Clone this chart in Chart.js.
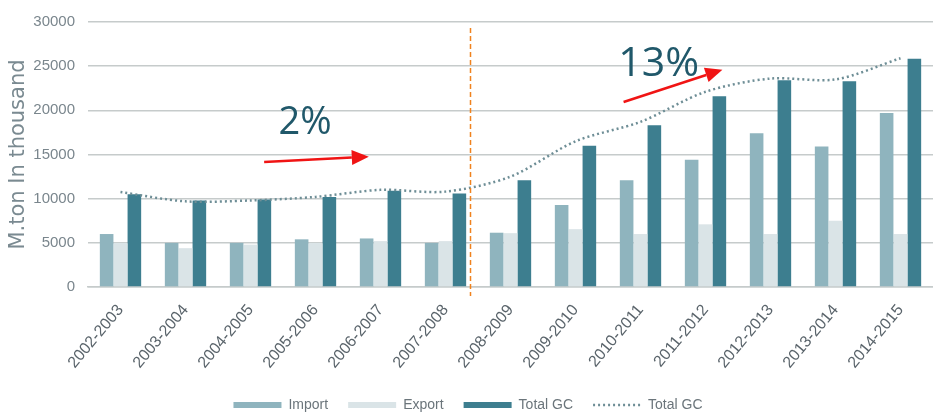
<!DOCTYPE html>
<html>
<head>
<meta charset="utf-8">
<script src="https://cdn.jsdelivr.net/npm/chart.js@4/dist/chart.umd.min.js"></script>
<style>
  html, body { margin: 0; padding: 0; background: #fff; overflow: hidden; }
  #wrap { position: relative; width: 933px; height: 418px; }
</style>
</head>
<body>
<div id="wrap"><canvas id="chart-gc"></canvas></div>
<script>
var seasons = ['2002-2003', '2003-2004', '2004-2005', '2005-2006', '2006-2007', '2007-2008', '2008-2009',
  '2009-2010', '2010-2011', '2011-2012', '2012-2013', '2013-2014', '2014-2015'];
var importValues = [6000, 5000, 5000, 5400, 5500, 5000, 6150, 9300, 12100, 14400, 17400, 15900, 19700];
var exportValues = [5000, 4400, 4800, 5000, 5200, 5200, 6100, 6550, 6000, 7100, 6000, 7500, 6000];
var totalValues = [10500, 9800, 9900, 10200, 10900, 10600, 12100, 16000, 18300, 21600, 23400, 23300, 25850];
var totalTrend = [10750, 9700, 9800, 10200, 11000, 10800, 12500, 16500, 18700, 22100, 23600, 23500, 25900];
var yTicks = [0, 5000, 10000, 15000, 20000, 25000, 30000];

// overlay notes, in category index / axis value
var growthNotes = [
  { text: '2%', x: 2.84, y: 17300, size: 38, from: [2.21, 14150], to: [3.82, 14750] },
  { text: '13%', x: 8.28, y: 23900, size: 41, from: [7.74, 20950], to: [9.26, 24600] }
];
var splitAt = 5.38;

var fontAxis = '"Liberation Sans", Arial, sans-serif';

var overlayPlugin = {
  id: 'overlay',
  afterDatasetsDraw: function (chart) {
    var ctx = chart.ctx, xs = chart.scales.x, ys = chart.scales.y, area = chart.chartArea;
    ctx.save();
    // period split
    var sx = Math.round(xs.getPixelForValue(splitAt)) + 0.5;
    ctx.strokeStyle = '#f0821e';
    ctx.lineWidth = 1.5;
    ctx.setLineDash([5, 3]);
    ctx.beginPath();
    ctx.moveTo(sx, area.top + 6);
    ctx.lineTo(sx, area.bottom + 9);
    ctx.stroke();
    ctx.setLineDash([]);

    growthNotes.forEach(function (n) {
      var x1 = xs.getPixelForValue(n.from[0]), y1 = ys.getPixelForValue(n.from[1]);
      var x2 = xs.getPixelForValue(n.to[0]), y2 = ys.getPixelForValue(n.to[1]);
      var ang = Math.atan2(y2 - y1, x2 - x1);
      var headLen = 17, headW = 7.5;
      var bx = x2 - Math.cos(ang) * headLen, by = y2 - Math.sin(ang) * headLen;
      ctx.strokeStyle = '#f01414';
      ctx.fillStyle = '#f01414';
      ctx.lineWidth = 2.5;
      ctx.beginPath();
      ctx.moveTo(x1, y1);
      ctx.lineTo(bx, by);
      ctx.stroke();
      ctx.beginPath();
      ctx.moveTo(x2, y2);
      ctx.lineTo(bx + Math.sin(ang) * headW, by - Math.cos(ang) * headW);
      ctx.lineTo(bx - Math.sin(ang) * headW, by + Math.cos(ang) * headW);
      ctx.closePath();
      ctx.fill();

      ctx.fillStyle = '#20586a';
      ctx.font = n.size + 'px "Open Sans", "Liberation Sans", sans-serif';
      ctx.textAlign = 'center';
      ctx.textBaseline = 'alphabetic';
      ctx.fillText(n.text, xs.getPixelForValue(n.x), ys.getPixelForValue(n.y));
    });
    ctx.restore();
  }
};

var ctxGc = document.getElementById('chart-gc').getContext('2d');
var gcChart = new Chart(ctxGc, {
  type: 'bar',
  data: {
    labels: seasons,
    datasets: [
      {
        label: 'Import',
        data: importValues,
        backgroundColor: '#8fb4be',
        borderWidth: 0,
        order: 2
      },
      {
        label: 'Export',
        data: exportValues,
        backgroundColor: '#dae4e7',
        borderWidth: 0,
        order: 2
      },
      {
        label: 'Total GC',
        data: totalValues,
        backgroundColor: '#3d7e8f',
        borderWidth: 0,
        order: 2
      },
      {
        type: 'line',
        label: 'Total GC',
        data: totalTrend,
        borderColor: '#6e8e96',
        borderWidth: 2.5,
        borderDash: [2, 3],
        backgroundColor: 'transparent',
        pointRadius: 0,
        tension: 0.3,
        fill: false,
        order: 1
      }
    ]
  },
  options: {
    responsive: true,
    maintainAspectRatio: false,
    animation: false,
    devicePixelRatio: 1,
    categoryPercentage: 0.64,
    barPercentage: 0.98,
    layout: {
      padding: { top: 19, right: -3, left: 0, bottom: -4 }
    },
    scales: {
      x: {
        grid: { display: false, drawTicks: false },
        border: { color: '#c6cbcb', width: 1.5 },
        afterFit: function (axis) {
          axis.height -= 8;
        },
        ticks: {
          color: '#5a646b',
          minRotation: 50,
          maxRotation: 50,
          padding: 14,
          autoSkip: false,
          font: { family: fontAxis, size: 16 }
        }
      },
      y: {
        min: 0,
        max: 30000,
        afterBuildTicks: function (axis) {
          axis.ticks = yTicks.map(function (v) { return { value: v }; });
        },
        afterFit: function (axis) {
          axis.width = 88;
        },
        grid: { color: '#c6cbcb', lineWidth: 1.5, drawTicks: false },
        border: { display: false },
        ticks: {
          color: '#7a868d',
          padding: 13,
          font: { family: fontAxis, size: 15 },
          callback: function (value) { return String(value); }
        },
        title: {
          display: true,
          text: 'M.ton In thousand',
          color: '#7a8a91',
          padding: { top: 6, bottom: 3 },
          font: { family: '"DejaVu Sans", sans-serif', size: 21 }
        }
      }
    },
    plugins: {
      legend: {
        position: 'bottom',
        labels: {
          usePointStyle: true,
          pointStyleWidth: 48,
          boxHeight: 12,
          padding: 20,
          color: '#6b757b',
          font: { family: fontAxis, size: 14 },
          generateLabels: function (chart) {
            var items = Chart.defaults.plugins.legend.labels.generateLabels(chart);
            items.forEach(function (item) {
              var ds = chart.data.datasets[item.datasetIndex];
              item.pointStyle = 'line';
              if (ds.type === 'line') {
                item.strokeStyle = ds.borderColor;
                item.lineWidth = 2.5;
                item.lineDash = [2, 3];
              } else {
                item.strokeStyle = ds.backgroundColor;
                item.lineWidth = 6;
                item.lineDash = [];
              }
            });
            items.sort(function (a, b) { return a.datasetIndex - b.datasetIndex; });
            return items;
          }
        }
      },
      tooltip: { enabled: false }
    }
  },
  plugins: [overlayPlugin]
});
</script>
</body>
</html>
